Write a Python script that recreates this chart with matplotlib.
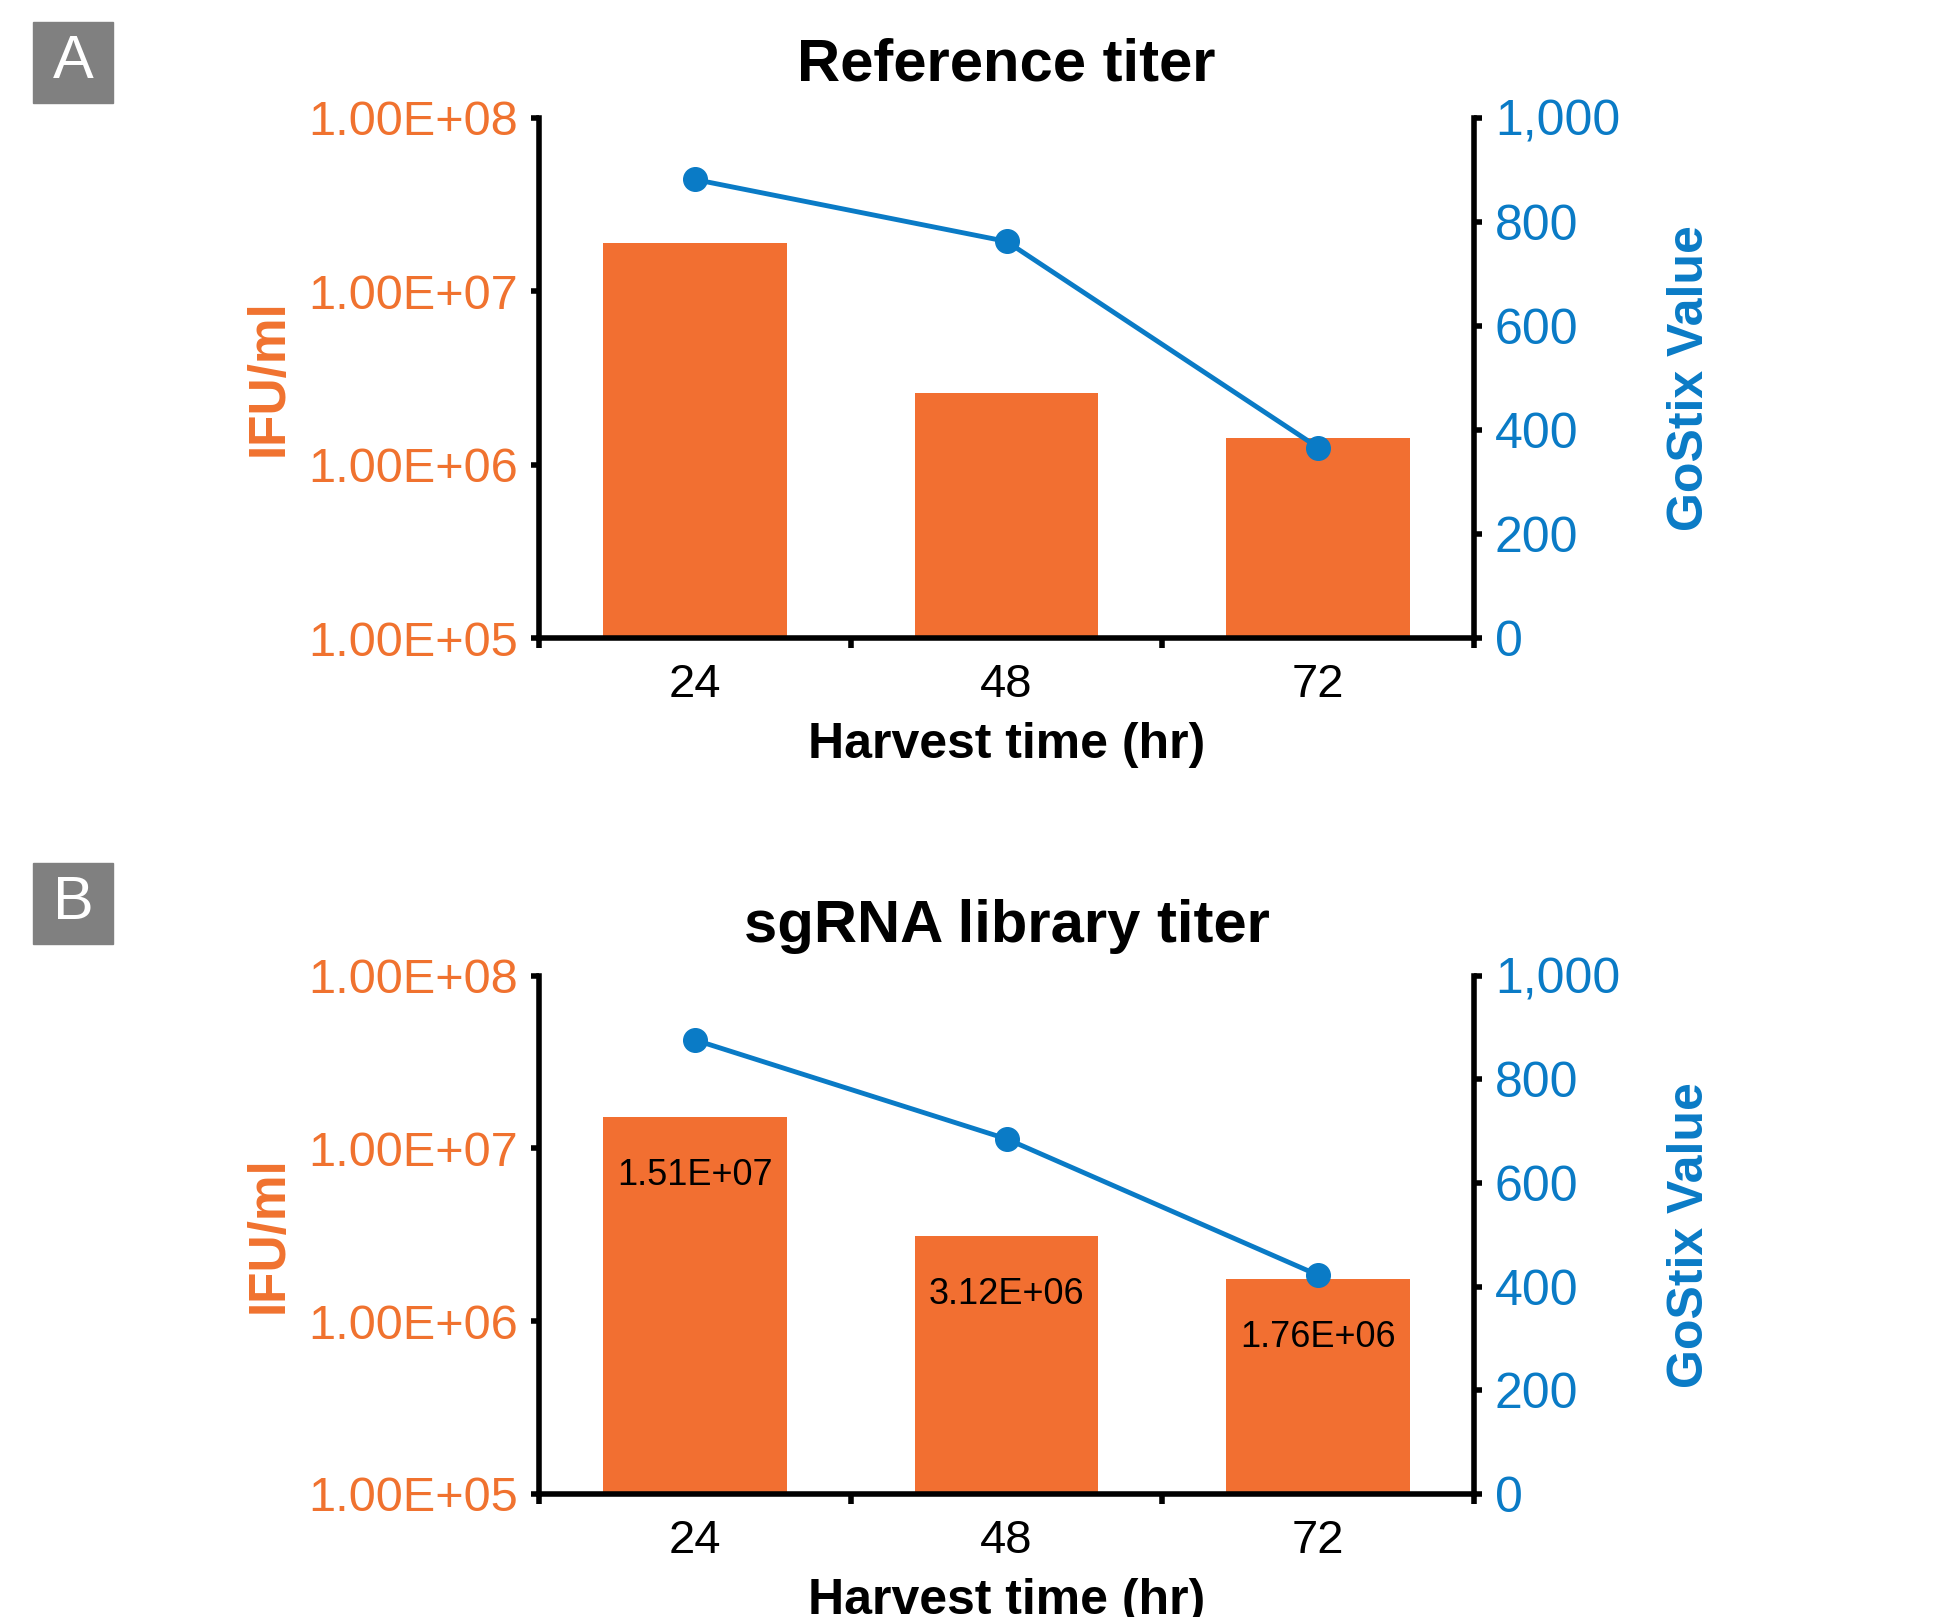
import matplotlib
matplotlib.use("Agg")
import matplotlib.pyplot as plt
from matplotlib.patches import Rectangle
from matplotlib.ticker import FixedLocator, FuncFormatter, NullLocator

plt.rcParams["font.family"] = ["Liberation Sans", "DejaVu Sans"]

ORANGE = "#F26F31"
ORANGE_TEXT = "#F0722F"
BLUE = "#0A7BC6"

harvest_hours = ["24", "48", "72"]

ref_titer = [1.88e7, 2.58e6, 1.43e6]
ref_gostix = [881, 762, 366]

lib_titer = [1.51e7, 3.12e6, 1.76e6]
lib_gostix = [876, 685, 422]
lib_titer_labels = ["1.51E+07", "3.12E+06", "1.76E+06"]


def sci_label(v, pos):
    return f"{v:.2E}"


def draw_panel(fig, rect, title, title_y, letter, box_y, titer, gostix, bar_labels=None):
    ax = fig.add_axes(rect)
    x = list(range(len(harvest_hours)))

    ax.bar(x, titer, width=0.59, color=ORANGE, bottom=0, zorder=2)
    ax.set_yscale("log")
    ax.set_ylim(1e5, 1e8)
    ax.set_xlim(-0.5, 2.5)
    ax.yaxis.set_major_locator(FixedLocator([1e5, 1e6, 1e7, 1e8]))
    ax.yaxis.set_minor_locator(NullLocator())
    ax.yaxis.set_major_formatter(FuncFormatter(sci_label))
    ax.tick_params(axis="y", which="major", length=6, width=4, pad=9,
                   labelsize=35, labelcolor=ORANGE_TEXT, color="black")

    # category labels without marks, boundary marks without labels
    ax.set_xticks(x)
    ax.set_xticklabels(harvest_hours)
    ax.tick_params(axis="x", which="major", length=0, pad=18, labelsize=34)
    ax.xaxis.set_minor_locator(FixedLocator([-0.5, 0.5, 1.5, 2.5]))
    ax.tick_params(axis="x", which="minor", length=7, width=4, direction="out")
    ax.set_xlabel("Harvest time (hr)", fontsize=36, fontweight="bold", labelpad=11)

    for side in ["top", "right"]:
        ax.spines[side].set_visible(False)
    for side in ["left", "bottom"]:
        ax.spines[side].set_linewidth(4)

    if bar_labels:
        for xi, val, lab in zip(x, titer, bar_labels):
            ax.annotate(lab, (xi, val), xytext=(0, -42), textcoords="offset points",
                        ha="center", va="center", fontsize=26, color="black", zorder=5)

    ax2 = ax.twinx()
    ax2.plot(x, gostix, color=BLUE, linewidth=3.5, marker="o", markersize=17, zorder=3)
    ax2.set_ylim(0, 1000)
    ax2.set_yticks([0, 200, 400, 600, 800, 1000])
    ax2.yaxis.set_major_formatter(FuncFormatter(lambda v, p: f"{int(v):,}"))
    ax2.tick_params(axis="y", length=6, width=4, pad=9, labelsize=36,
                    labelcolor=BLUE, color="black")
    for side in ["top", "left", "bottom"]:
        ax2.spines[side].set_visible(False)
    ax2.spines["right"].set_linewidth(4)

    cx = rect[0] + rect[2] / 2
    fig.text(cx, title_y, title, ha="center", va="baseline",
             fontsize=43, fontweight="bold")

    yc = rect[1] + rect[3] / 2
    fig.text(0.139, yc, "IFU/ml", rotation=90, ha="center", va="center",
             fontsize=37, fontweight="bold", color=ORANGE_TEXT)
    fig.text(0.8717, yc, "GoStix Value", rotation=90, ha="center", va="center",
             fontsize=36, fontweight="bold", color=BLUE)

    fig.patches.append(Rectangle((0.017, box_y), 0.0413, 0.0498,
                                 transform=fig.transFigure, color="#808080"))
    fig.text(0.017 + 0.0413 / 2, box_y + 0.0498 / 2, letter, ha="center",
             va="center", fontsize=44, color="white")
    return ax


fig = plt.figure(figsize=(19.39, 16.17), dpi=100)

draw_panel(fig, [0.278, 0.6054, 0.4822, 0.3219], "Reference titer", 0.9505,
           "A", 0.9363, ref_titer, ref_gostix)
draw_panel(fig, [0.278, 0.0762, 0.4822, 0.3204], "sgRNA library titer", 0.4175,
           "B", 0.4162, lib_titer, lib_gostix, lib_titer_labels)

fig.savefig("out.png", dpi=100)
plt.close(fig)
